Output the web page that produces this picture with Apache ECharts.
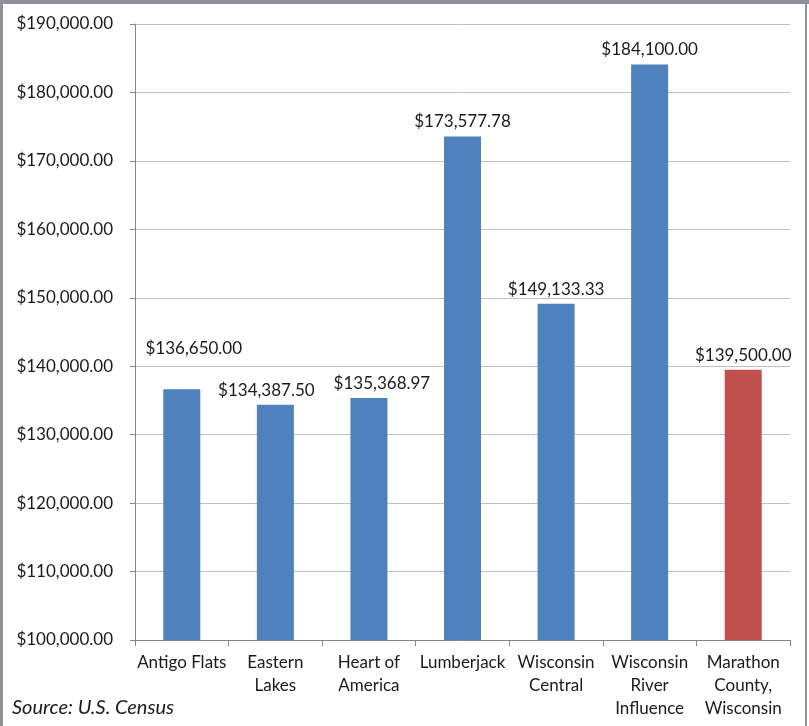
<!DOCTYPE html>
<html>
<head>
<meta charset="utf-8">
<script src="https://cdn.jsdelivr.net/npm/echarts@6/dist/echarts.min.js"></script>
<style>
  html, body { margin: 0; padding: 0; background: #fff; }
  #chart { width: 809px; height: 726px; }
</style>
</head>
<body>
<div id="chart"></div>
<script>
// Median home value by area
const categories = [
  'Antigo Flats',
  'Eastern\nLakes',
  'Heart of\nAmerica',
  'Lumberjack',
  'Wisconsin\nCentral',
  'Wisconsin\nRiver\nInfluence',
  'Marathon\nCounty,\nWisconsin'
];
const values = [136650.00, 134387.50, 135368.97, 173577.78, 149133.33, 184100.00, 139500.00];
const barColors = ['#4F81BD', '#4F81BD', '#4F81BD', '#4F81BD', '#4F81BD', '#4F81BD', '#C0504D'];
const labelOffsets = [[12, -26], [-9, 0], [13, 0], [0, 0], [0, 0], [0, 0], [0, 0]];
const sourceNote = 'Source: U.S. Census';

const FONT = 'Lato';

function money(v) {
  return '$' + v.toLocaleString('en-US', { minimumFractionDigits: 2, maximumFractionDigits: 2 });
}

const chart = echarts.init(document.getElementById('chart'));

chart.setOption({
  backgroundColor: '#fff',
  animation: false,
  grid: { left: 135, right: 19, top: 24, bottom: 86, containLabel: false },
  xAxis: {
    type: 'category',
    data: categories,
    axisLine: { lineStyle: { color: '#868686', width: 1 } },
    axisTick: { show: true, alignWithLabel: false, length: 6, lineStyle: { color: '#868686' } },
    axisLabel: {
      interval: 0,
      margin: 11,
      color: '#1a1a1a',
      fontFamily: FONT,
      fontSize: 17,
      lineHeight: 23,
      align: 'center'
    }
  },
  yAxis: {
    type: 'value',
    min: 100000,
    max: 190000,
    interval: 10000,
    axisLine: { show: true, lineStyle: { color: '#868686', width: 1 } },
    axisTick: { show: true, length: 5, lineStyle: { color: '#868686' } },
    splitLine: { lineStyle: { color: '#BFBFBF', width: 1 } },
    axisLabel: {
      margin: 22,
      color: '#1a1a1a',
      fontFamily: FONT,
      fontSize: 17,
      formatter: v => money(v)
    }
  },
  series: [{
    type: 'bar',
    barWidth: 37,
    data: values.map((v, i) => ({
      value: v,
      itemStyle: { color: barColors[i] },
      label: { offset: labelOffsets[i] }
    })),
    label: {
      show: true,
      position: 'top',
      distance: 6,
      color: '#1a1a1a',
      fontFamily: FONT,
      fontSize: 17,
      formatter: p => money(p.value)
    }
  }],
  graphic: [
    { type: 'rect', shape: { x: 0, y: 0, width: 809, height: 4 }, style: { fill: '#8E9196' }, silent: true },
    { type: 'rect', shape: { x: 0, y: 0, width: 3, height: 726 }, style: { fill: '#8E9196' }, silent: true },
    { type: 'rect', shape: { x: 805, y: 0, width: 2, height: 726 }, style: { fill: '#8E9196' }, silent: true },
    {
      type: 'text',
      left: 12,
      top: 698,
      style: { text: sourceNote, fontFamily: FONT, fontStyle: 'italic', fontSize: 20, fill: '#1a1a1a' }
    }
  ]
});
</script>
</body>
</html>
